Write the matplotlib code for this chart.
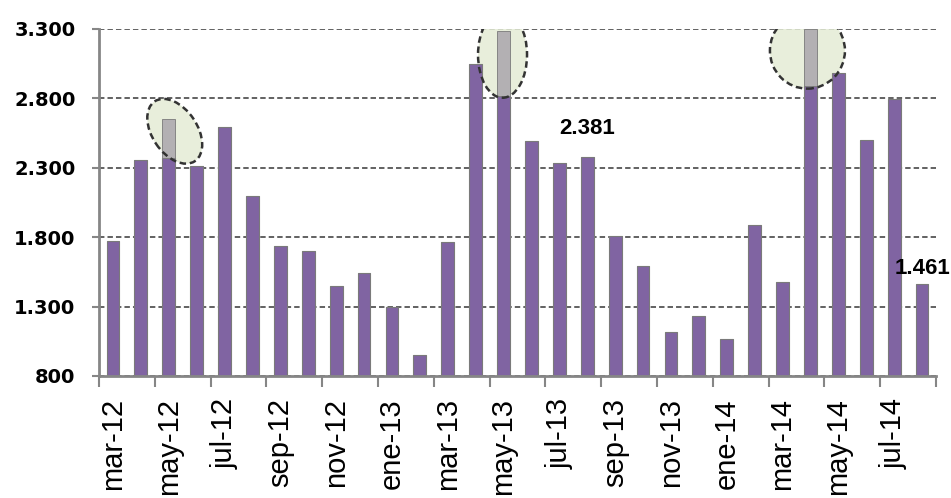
import matplotlib
matplotlib.use("Agg")
import matplotlib.pyplot as plt
import matplotlib.transforms as mtransforms
from matplotlib.patches import Ellipse
from matplotlib.ticker import FuncFormatter, FixedLocator
import numpy as np

months = ['mar-12', 'abr-12', 'may-12', 'jun-12', 'jul-12', 'ago-12', 'sep-12', 'oct-12',
          'nov-12', 'dic-12', 'ene-13', 'feb-13', 'mar-13', 'abr-13', 'may-13', 'jun-13',
          'jul-13', 'ago-13', 'sep-13', 'oct-13', 'nov-13', 'dic-13', 'ene-14', 'feb-14',
          'mar-14', 'abr-14', 'may-14', 'jun-14', 'jul-14', 'ago-14']
base = [1772, 2353, 2373, 2310, 2594, 2094, 1733, 1697, 1449, 1541, 1296, 949, 1762, 3049,
        2815, 2491, 2334, 2381, 1805, 1596, 1115, 1235, 1067, 1889, 1476, 2887, 2984, 2503,
        2799, 1461]
# grey extra part of the highlighted bars
extra = {'may-12': 279, 'may-13': 469, 'abr-14': 413}
labelled = {'ago-13': 20, 'ago-14': 11}   # month -> label offset (pt)
yticks = [800, 1300, 1800, 2300, 2800, 3300]

purple = '#8064a2'
grey_edge = '#7a7a7a'

fig = plt.figure(figsize=(9.51, 4.98), dpi=100)
ax = fig.add_axes([0.1041, 0.245, 0.8801, 0.6968])

x = np.arange(len(months))
extra_vals = [extra.get(m, 0) for m in months]
ax.bar(x, base, width=0.46, color=purple, edgecolor=grey_edge, linewidth=0.8, zorder=2)
ax.bar(x, extra_vals, width=0.46, bottom=base, color='#b3b0b3', edgecolor=grey_edge,
       linewidth=0.6, zorder=2)

# highlight ellipses (size in pixels, offset in pixels from middle of grey part)
ell_spec = {'may-12': (72, 45, -56, 6, 7), 'may-13': (49, 86, 0, -1, 9),
            'abr-14': (75, 76, 0, -3, 7)}
for m, (w, h, ang, dx, dy) in ell_spec.items():
    i = months.index(m)
    yc = base[i] + extra[m] / 2
    trans = fig.dpi_scale_trans + mtransforms.ScaledTranslation(i, yc, ax.transData)
    fill = Ellipse((dx / 100, dy / 100), w / 100, h / 100, angle=ang, transform=trans,
                   facecolor='#e4ecd5', edgecolor='none', alpha=0.85, zorder=1)
    edge = Ellipse((dx / 100, dy / 100), w / 100, h / 100, angle=ang, transform=trans,
                   facecolor='none', edgecolor='#333333', linewidth=1.8,
                   linestyle=(0, (2.6, 1.5)), zorder=3)
    ax.add_patch(fill)
    ax.add_patch(edge)

fmt = lambda v: f"{int(v):,}".replace(',', '.')

for m, off in labelled.items():
    i = months.index(m)
    ax.annotate(fmt(base[i]), (i, base[i]), xytext=(0, off), textcoords='offset points',
                ha='center', va='center', fontsize=16, fontweight='bold',
                family='Liberation Sans', zorder=4)

ax.set_xlim(-0.5, len(months) - 0.5)
ax.set_ylim(800, 3300)
ax.set_yticks(yticks)
ax.yaxis.set_major_formatter(FuncFormatter(lambda v, p: fmt(v)))
for t in ax.get_yticklabels():
    t.set_fontweight('bold')
    t.set_fontsize(14)

ax.set_xticks(x[::2])
ax.set_xticklabels(months[::2], rotation=90, fontsize=21, family='Liberation Sans',
                   va='top', ha='center')
ax.xaxis.set_minor_locator(FixedLocator(np.arange(-0.5, len(months), 2)))
ax.tick_params(axis='x', which='major', length=0, pad=16)
ax.tick_params(axis='x', which='minor', length=8, width=1.5, color='#868686')
ax.tick_params(axis='y', length=5, width=1.5, color='#868686', pad=12)

ax.set_axisbelow(True)
ax.grid(axis='y', linestyle=(0, (3, 1.7)), color='#555555', linewidth=1.3)

for s in ['top', 'right']:
    ax.spines[s].set_visible(False)
for s in ['left', 'bottom']:
    ax.spines[s].set_color('#868686')
    ax.spines[s].set_linewidth(2)

plt.savefig("out.png", dpi=100)
